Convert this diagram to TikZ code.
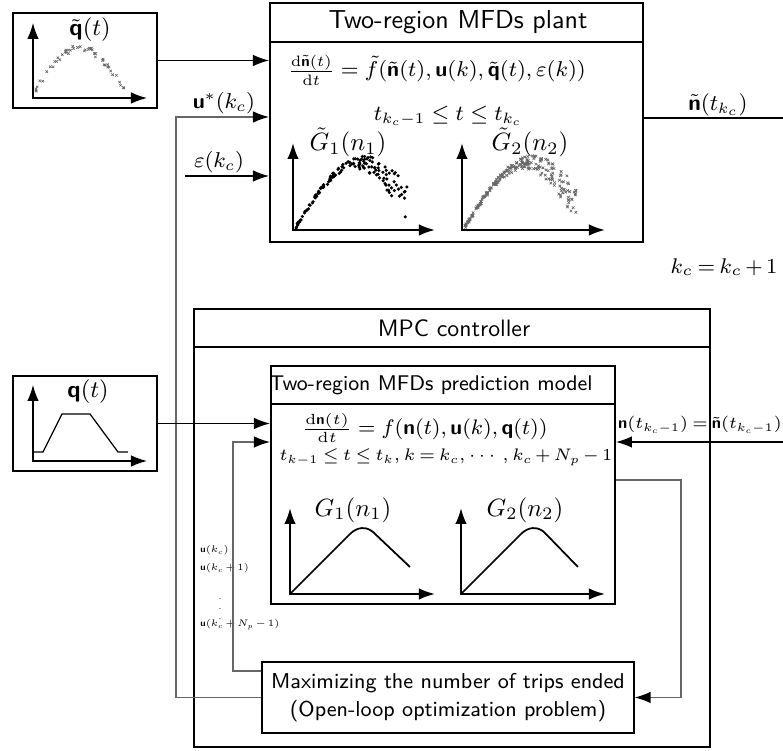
\RequirePackage{fix-cm}
\documentclass[tikz,border=0pt]{standalone}
\usepackage{amsmath,amssymb}
\usepackage{tikz}
\usetikzlibrary{arrows.meta,positioning,fit,calc}
\renewcommand{\familydefault}{\sfdefault}
\DeclareMathAlphabet{\mathbsf}{OT1}{cmss}{bx}{n}
\newcommand{\tightmath}{\medmuskip=2.5mu\relax\thickmuskip=3.5mu\relax}

\begin{document}
\begin{tikzpicture}[
    x=0.4pt, y=-0.4pt,
    >={Latex[length=6.4pt,width=4.6pt,color=black]},
    block/.style={draw, line width=0.8pt, inner sep=0pt},
    thinblock/.style={draw, line width=0.5pt, inner sep=0pt},
    axis/.style={<->, line width=0.8pt},
    wire/.style={->, line width=0.5pt},
    gwire/.style={->, draw=black!60, line width=0.5pt},
    title/.style={inner sep=0pt, font=\fontsize{10.4}{12}\selectfont},
    eqn/.style={inner sep=0pt, font=\fontsize{8.6}{10}\selectfont},
    ulbl/.style={inner sep=0pt, anchor=west, font=\fontsize{3.8}{5}\selectfont\tightmath}
  ]
  \useasboundingbox (0,0) rectangle (783,751);

  % boxes
  \node[thinblock, fit={(13,13) (157,108)}]  (qtil)  {};
  \node[thinblock, fit={(13,376) (157,471)}] (qbox)  {};
  \node[block, fit={(270,3) (643,242)}]      (plant) {};
  \node[block, fit={(194,309) (710,747)}]    (mpc)   {};
  \node[block, fit={(271,366) (615,604)}]    (pred)  {};
  \node[thinblock, fit={(262,662) (634,733)}] (opt)  {};
  \draw[line width=0.8pt] (plant.west |- 0,42) -- (plant.east |- 0,42);
  \draw[line width=0.8pt] (mpc.west |- 0,347) -- (mpc.east |- 0,347);
  \draw[line width=0.8pt] (pred.west |- 0,404) -- (pred.east |- 0,404);

  % titles
  \node[title] (plantT) at (458,22) {Two-region MFDs plant};
  \node[title, font=\fontsize{9.5}{11}\selectfont] (mpcT) at (454,328) {MPC controller};
  \node[title, font=\fontsize{8.5}{10}\selectfont] (predT) at (431,385) {Two-region MFDs prediction model};
  \node[title, align=center, font=\fontsize{8.6}{11.2}\selectfont] (optT) at (opt) {Maximizing the number of trips ended\\(Open-loop optimization problem)};

  % plant
  \node[eqn] (plantEq) at (437,70) {$\frac{\mathrm{d}\tilde{\mathbsf{n}}(t)}{\mathrm{d}t}=\tilde{f}(\tilde{\mathbsf{n}}(t),\mathbsf{u}(k),\tilde{\mathbsf{q}}(t),\varepsilon(k))$};
  \node[eqn, font=\fontsize{8.6}{10}\selectfont] (plantTi) at (448,116) {$t_{k_c-1}\le t\le t_{k_c}$};
  \node[eqn, font=\fontsize{10}{12}\selectfont] (G1t) at (348,142) {$\tilde{G}_1(n_1)$};
  \node[eqn, font=\fontsize{10}{12}\selectfont] (G2t) at (530,142) {$\tilde{G}_2(n_2)$};
  \draw[axis] (293,143) |- (435,230);
  \draw[axis] (462,143) |- (605,230);
  % scattered samples
  \pgfmathsetseed{11}
  \foreach \i in {1,...,150}{
    \pgfmathsetmacro{\ru}{rnd}
    \pgfmathsetmacro{\sx}{296+112*\ru}
    \pgfmathsetmacro{\sy}{227-64*sin(160*\ru)+(rnd-0.5)*(3+34*\ru*\ru)}
    \fill (\sx,\sy) circle[radius=0.7pt];
  }
  \foreach \i in {1,...,220}{
    \pgfmathsetmacro{\ru}{rnd}
    \pgfmathsetmacro{\sx}{465+112*\ru}
    \pgfmathsetmacro{\sy}{227-64*sin(160*\ru)+(rnd-0.5)*(3+34*\ru*\ru)}
    \draw[black!60, line width=0.25pt] (\sx-1.3,\sy-1.3) -- (\sx+1.3,\sy+1.3) (\sx-1.3,\sy+1.3) -- (\sx+1.3,\sy-1.3);
  }

  % demand boxes
  \node[eqn, font=\fontsize{9.5}{11}\selectfont] (qtilT) at (90,30) {$\tilde{\mathbsf{q}}(t)$};
  \draw[axis, line width=0.5pt] (33,23) |- (147,98);
  \foreach \i in {1,...,50}{
    \pgfmathsetmacro{\ru}{rnd}
    \pgfmathsetmacro{\sx}{35+90*\ru}
    \pgfmathsetmacro{\sy}{90-42*sin(180*\ru)+(rnd-0.5)*6}
    \draw[black!60, line width=0.25pt] (\sx-1.2,\sy-1.2) -- (\sx+1.2,\sy+1.2) (\sx-1.2,\sy+1.2) -- (\sx+1.2,\sy-1.2);
  }
  \node[eqn, font=\fontsize{9.5}{11}\selectfont] (qT) at (88,392) {$\mathbsf{q}(t)$};
  \draw[axis, line width=0.5pt] (33,385) |- (147,461);
  \draw[line width=0.5pt] (33,452) -- (43,452) -- (62,414) -- (90,414) -- (118,452) -- (128,452);

  % prediction model
  \node[eqn, font=\fontsize{8.4}{10}\selectfont] (predEq) at (425,428) {$\frac{\mathrm{d}\mathbsf{n}(t)}{\mathrm{d}t}=f(\mathbsf{n}(t),\mathbsf{u}(k),\mathbsf{q}(t))$};
  \node[eqn, font=\fontsize{6.7}{9}\selectfont\tightmath] (predTi) at (446,457) {$t_{k-1}\le t\le t_k,k=k_c,\cdots,k_c+N_p-1$};
  \node[eqn, font=\fontsize{10}{12}\selectfont] (G1) at (353,510) {$G_1(n_1)$};
  \node[eqn, font=\fontsize{10}{12}\selectfont] (G2) at (525,510) {$G_2(n_2)$};
  \draw[axis] (290,508) |- (435,594);
  \draw[axis] (461,508) |- (605,594);
  \draw[line width=0.7pt] (290,594) -- (350,534) .. controls (357,527) and (366,526) .. (373,532) -- (410,567);
  \draw[line width=0.7pt] (461,594) -- (521,534) .. controls (528,527) and (537,526) .. (544,532) -- (578,567);

  % signals
  \node[eqn] (ustarT) at (224,103) {$\mathbsf{u}^*(k_c)$};
  \node[eqn] (epsT) at (219,162) {$\varepsilon(k_c)$};
  \node[eqn, font=\fontsize{9}{11}\selectfont] (noutT) at (718,105) {$\tilde{\mathbsf{n}}(t_{k_c})$};
  \node[eqn, font=\fontsize{8.5}{10}\selectfont\tightmath] (kcT) at (724,267) {$k_c=k_c+1$};
  \node[eqn, font=\fontsize{6.6}{8}\selectfont\tightmath] (ninT) at (700,425) {$\mathbsf{n}(t_{k_c-1})=\tilde{\mathbsf{n}}(t_{k_c-1})$};
  \node[ulbl] (u1) at (200,550) {$\mathbsf{u}(k_c)$};
  \node[ulbl] (u2) at (200,568) {$\mathbsf{u}(k_c+1)$};
  \node[ulbl, anchor=center] (u3) at (220,602) {$\vdots$};
  \node[ulbl] (u4) at (200,625) {$\mathbsf{u}(k_c+N_p-1)$};

  \coordinate (uin)   at (176,117);
  \coordinate (epsin) at (185,176);
  \coordinate (nout)  at (783,118);
  \coordinate (ufb)   at (233,442);
  \coordinate (nin)   at (783,442);
  \coordinate (pout)  at (681,480);
  \draw[wire] (qtil) -- (qtil -| plant.west);
  \draw[gwire] (opt.west) -| (uin) -- (uin -| plant.west);
  \draw[wire] (epsin) -- (epsin -| plant.west);
  \draw[line width=0.5pt] (nout -| plant.east) -- (nout);
  \draw[wire] (qbox) -- (qbox -| pred.west);
  \draw[gwire] (opt.west |- 0,671) -| (ufb) -- (ufb -| pred.west);
  \draw[wire] (nin) -- (nin -| pred.east);
  \draw[gwire] (pout -| pred.east) -- (pout) |- (opt.east);
\end{tikzpicture}
\end{document}
